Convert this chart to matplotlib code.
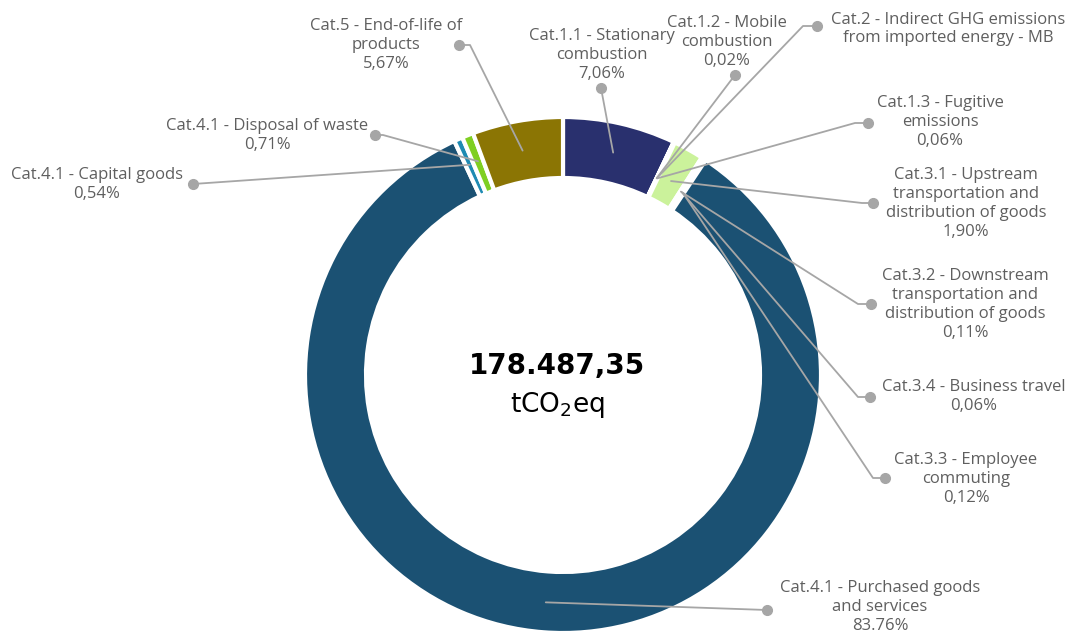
import matplotlib
matplotlib.use("Agg")
import matplotlib.pyplot as plt
import numpy as np

# ---------------- data ----------------
categories = [
    "Cat.1.1 - Stationary\ncombustion",
    "Cat.1.2 - Mobile\ncombustion",
    "Cat.2 - Indirect GHG emissions\nfrom imported energy - MB",
    "Cat.1.3 - Fugitive\nemissions",
    "Cat.3.1 - Upstream\ntransportation and\ndistribution of goods",
    "Cat.3.2 - Downstream\ntransportation and\ndistribution of goods",
    "Cat.3.4 - Business travel",
    "Cat.3.3 - Employee\ncommuting",
    "Cat.4.1 - Purchased goods\nand services",
    "Cat.4.1 - Capital goods",
    "Cat.4.1 - Disposal of waste",
    "Cat.5 - End-of-life of\nproducts",
]
shares = [7.06, 0.02, 0.0, 0.06, 1.90, 0.11, 0.06, 0.12, 83.76, 0.54, 0.71, 5.67]
pct_labels = ["7,06%", "0,02%", "", "0,06%", "1,90%", "0,11%", "0,06%", "0,12%",
              "83.76%", "0,54%", "0,71%", "5,67%"]
total_text = "178.487,35"
unit_text = r"tCO$\mathregular{_2}$eq"

# ---------------- styles / layout ----------------
colors = ["#29306e", "#3d6fb6", "#5a9bd5", "#9bd17a", "#cbf29b", "#2e86c1", "#48a9a6",
          "#6c8ebf", "#1b5173", "#1f8bb3", "#7fcf22", "#8b7504"]
W, H = 1073, 637
cx, cy_img = 563, 375
R_out, ring = 258, 61
anchor_r = [228, 218, 218, 218, 222, 218, 218, 218, 228, 230, 230, 228]
# label centre (x, y of middle), dot position, elbow offset (None = straight)
label_pos = [(602, 55), (727, 42), (948, 29), (940, 122), (966, 203.5), (965, 304.5),
             (974, 396.5), (966, 479), (880, 607), (97, 184.5), (267, 135.5), (386, 45)]
dot_pos = [(601, 88), (735, 75), (817, 26), (868, 123), (873, 203), (871, 304),
           (870, 397), (885, 478), (767, 610), (193, 184), (375, 135), (459, 45)]
elbow_dx = [None, None, -14, -13, -11, -13, -12, -12, None, None, 8, 11]

plt.rcParams['font.family'] = ['Open Sans', 'DejaVu Sans']
text_color = "#5f5f5f"
line_color = "#a6a6a6"

fig = plt.figure(figsize=(W / 100, H / 100), dpi=100)
ax = fig.add_axes([0, 0, 1, 1])

def Y(y):
    return H - y

wedges, _ = ax.pie(shares, colors=colors, startangle=90, counterclock=False,
                   radius=R_out, center=(cx, Y(cy_img)),
                   wedgeprops=dict(width=ring, edgecolor="white", linewidth=3))
ax.set_xlim(0, W)
ax.set_ylim(0, H)
ax.set_aspect('equal')
ax.axis('off')

for i, w in enumerate(wedges):
    ang = np.deg2rad((w.theta1 + w.theta2) / 2)
    ax_ = cx + anchor_r[i] * np.cos(ang)
    ay_ = Y(cy_img) + anchor_r[i] * np.sin(ang)
    dx, dy = dot_pos[i]
    xs, ys = [ax_], [ay_]
    if elbow_dx[i] is not None:
        xs.append(dx + elbow_dx[i])
        ys.append(Y(dy))
    xs.append(dx)
    ys.append(Y(dy))
    ax.plot(xs, ys, color=line_color, lw=1.3, solid_capstyle='round', zorder=3)
    ax.plot(dx, Y(dy), 'o', color=line_color, ms=7, zorder=4)
    txt = categories[i] + ("\n" + pct_labels[i] if pct_labels[i] else "")
    lx, ly = label_pos[i]
    ax.text(lx, Y(ly), txt, ha='center', va='center', fontsize=12,
            color=text_color, linespacing=1.25)

ax.text(cx - 6, Y(366), total_text, ha='center', va='center', fontsize=20,
        fontweight='bold', color='black', family='DejaVu Sans')
ax.text(cx - 6, Y(405), unit_text, ha='center', va='center', fontsize=19,
        color='black', family='DejaVu Sans')

fig.savefig("out.png", dpi=100)
